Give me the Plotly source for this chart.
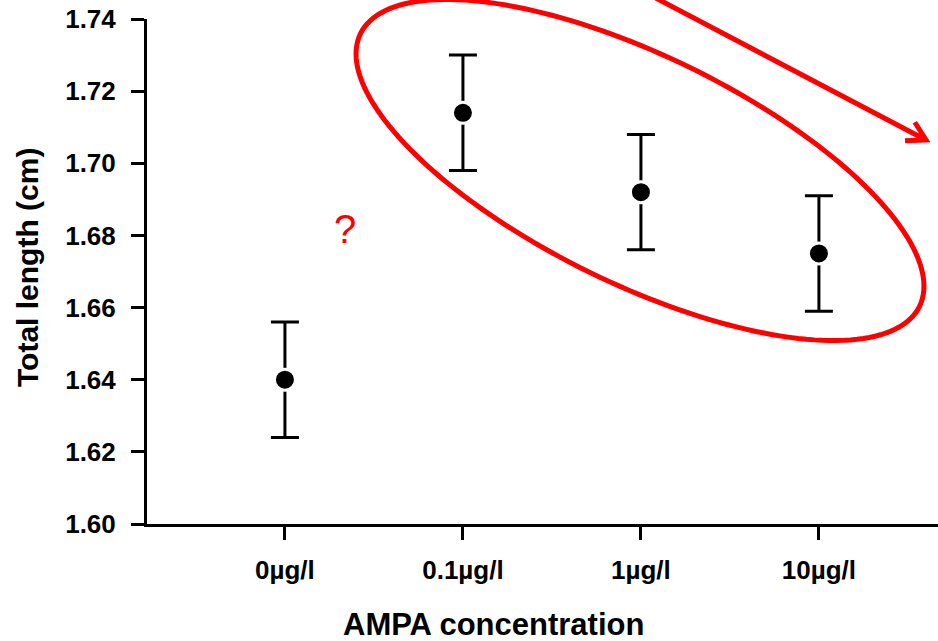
import math
import plotly.graph_objects as go

# Mean total length per AMPA concentration, with error (± half-range)
concentrations = ["0µg/l", "0.1µg/l", "1µg/l", "10µg/l"]
mean_length = [1.640, 1.714, 1.692, 1.675]
err_length = [0.016, 0.016, 0.016, 0.016]

y_ticks = [1.60, 1.62, 1.64, 1.66, 1.68, 1.70, 1.72, 1.74]

# Page geometry (pixels)
W, H = 938, 641
M_L, M_R, M_T, M_B = 147, 0, 19, 117
PW, PH = W - M_L - M_R, H - M_T - M_B

FONT = "Arial, 'Liberation Sans', sans-serif"
RED = "#ff0000"


def px_to_paper(px, py):
    return (px - M_L) / PW, (H - M_B - py) / PH


def path_from(points, closed=False):
    pts = [px_to_paper(x, y) for x, y in points]
    d = "M " + " L ".join(f"{x:.5f},{y:.5f}" for x, y in pts)
    return d + (" Z" if closed else "")


# Rotated ellipse around the three treated groups
cx, cy, ra, rb, ang = 640, 170, 311, 114, math.radians(26)
ellipse_pts = []
for k in range(181):
    t = 2 * math.pi * k / 180
    ex = ra * math.cos(t) * math.cos(ang) - rb * math.sin(t) * math.sin(ang)
    ey = ra * math.cos(t) * math.sin(ang) + rb * math.sin(t) * math.cos(ang)
    ellipse_pts.append((cx + ex, cy + ey))

# Downward trend arrow with an open head
tail, tip = (652, -4), (926, 140)
dx, dy = tail[0] - tip[0], tail[1] - tip[1]
base = math.atan2(dy, dx)
arm = 21
head_a = (tip[0] + arm * math.cos(base - math.radians(30)),
          tip[1] + arm * math.sin(base - math.radians(30)))
head_b = (tip[0] + arm * math.cos(base + math.radians(30)),
          tip[1] + arm * math.sin(base + math.radians(30)))

fig = go.Figure()
fig.add_trace(go.Scatter(
    x=concentrations,
    y=mean_length,
    mode="markers",
    marker=dict(color="black", size=21, line=dict(color="white", width=3)),
    error_y=dict(type="data", array=err_length, visible=True,
                 color="black", thickness=3, width=14),
    showlegend=False,
    cliponaxis=False,
))

shapes = [
    dict(type="path", xref="paper", yref="paper", path=path_from(ellipse_pts, closed=True),
         line=dict(color=RED, width=5), layer="above"),
    dict(type="path", xref="paper", yref="paper", path=path_from([tail, tip]),
         line=dict(color=RED, width=5), layer="above"),
    dict(type="path", xref="paper", yref="paper", path=path_from([head_a, tip, head_b]),
         line=dict(color=RED, width=5), layer="above"),
]

qx, qy = px_to_paper(345, 229)
tx, ty = px_to_paper(493, 624)
yx, yy = px_to_paper(27, 268)

annotations = [
    dict(text="?", x=qx, y=qy, xref="paper", yref="paper", showarrow=False,
         xanchor="center", yanchor="middle",
         font=dict(family=FONT, size=40, color=RED)),
    dict(text="AMPA concentration", x=tx, y=ty, xref="paper", yref="paper",
         showarrow=False, xanchor="center", yanchor="middle",
         font=dict(family=FONT, size=31, color="black", weight="bold")),
    dict(text="Total length (cm)", x=yx, y=yy, xref="paper", yref="paper",
         showarrow=False, textangle=-90, xanchor="center", yanchor="middle",
         font=dict(family=FONT, size=30, color="black", weight="bold")),
]

fig.update_layout(
    width=W, height=H,
    margin=dict(l=M_L, r=M_R, t=M_T, b=M_B, pad=0),
    paper_bgcolor="white", plot_bgcolor="white",
    shapes=shapes, annotations=annotations,
    xaxis=dict(
        type="category", range=[-0.775, 3.669],
        showgrid=False, zeroline=False,
        showline=True, linecolor="black", linewidth=3,
        ticks="outside", ticklen=13, tickwidth=3, tickcolor="black",
        tickfont=dict(family=FONT, size=26, color="black", weight="bold"),
        ticklabelstandoff=8,
    ),
    yaxis=dict(
        range=[1.60, 1.74], tickvals=y_ticks,
        tickformat=".2f",
        showgrid=False, zeroline=False,
        showline=True, linecolor="black", linewidth=3,
        ticks="outside", ticklen=13, tickwidth=3, tickcolor="black",
        tickfont=dict(family=FONT, size=26, color="black", weight="bold"),
        ticklabelstandoff=10,
    ),
)

fig.write_html("out.html")
